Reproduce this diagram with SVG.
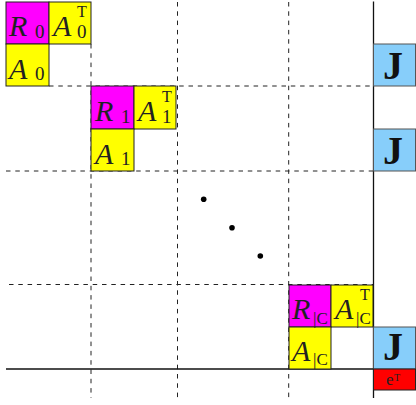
<svg xmlns="http://www.w3.org/2000/svg" width="416" height="405" viewBox="0 0 416 405">
<style>
.m{fill:#ff00ff;stroke:#222;stroke-width:1}
.y{fill:#ffff00;stroke:#222;stroke-width:1}
.j{fill:#87cefa;stroke:#555;stroke-width:1}
.r{fill:#ff0000;stroke:#222;stroke-width:1}
.d{stroke:#222;stroke-width:1;stroke-dasharray:4.5 4.8;fill:none}
.s{stroke:#111;stroke-width:1.3;fill:none}
.v{font-family:"Liberation Serif","DejaVu Serif",serif;font-style:italic;font-size:30px;fill:#222}
.n{font-family:"Liberation Serif","DejaVu Serif",serif;font-size:19px;fill:#222}
.t{font-family:"Liberation Serif","DejaVu Serif",serif;font-size:16px;fill:#222}
.c{font-family:"Liberation Serif","DejaVu Serif",serif;font-size:17px;fill:#222}
.J{font-family:"Liberation Serif","DejaVu Serif",serif;font-weight:bold;font-size:40px;fill:#111;text-anchor:middle}
</style>
<g id="grid">
<line class="d" x1="91" y1="44" x2="91" y2="398"/>
<line class="d" x1="177.5" y1="2" x2="177.5" y2="398"/>
<line class="d" x1="288.7" y1="2" x2="288.7" y2="398"/>
<line class="d" x1="49" y1="86" x2="373" y2="86"/>
<line class="d" x1="6" y1="171" x2="373" y2="171"/>
<line class="d" x1="9" y1="284.5" x2="373" y2="284.5"/>
<line class="s" x1="373.5" y1="1.5" x2="373.5" y2="398"/>
<line class="s" x1="6" y1="369" x2="416" y2="369"/>
</g>
<g id="block0">
<rect class="m" x="6" y="2" width="43" height="42"/>
<rect class="y" x="49" y="2" width="42" height="42"/>
<rect class="y" x="6" y="44" width="43" height="42"/>
<text class="v" x="9" y="36">R</text><text class="n" x="35" y="38">0</text>
<text class="v" x="53" y="36">A</text><text class="n" x="77" y="38">0</text><text class="t" x="77" y="17">T</text>
<text class="v" x="9" y="79">A</text><text class="n" x="35" y="80">0</text>
</g>
<g id="block1">
<rect class="m" x="91" y="86" width="43" height="43"/>
<rect class="y" x="134" y="86" width="42" height="43"/>
<rect class="y" x="91" y="129" width="43" height="42"/>
<text class="v" x="95" y="121">R</text><text class="n" x="121" y="123">1</text>
<text class="v" x="138" y="121">A</text><text class="n" x="162" y="123">1</text><text class="t" x="162" y="102">T</text>
<text class="v" x="95" y="164">A</text><text class="n" x="121" y="165">1</text>
</g>
<g id="blockC">
<rect class="m" x="289" y="285" width="42" height="42"/>
<rect class="y" x="331" y="285" width="42" height="42"/>
<rect class="y" x="289" y="327" width="42" height="42"/>
<text class="v" x="292" y="319">R</text><text class="c" x="313" y="324">|C</text>
<text class="v" x="335" y="319">A</text><text class="c" x="356" y="324">|C</text><text class="t" x="360" y="300">T</text>
<text class="v" x="292" y="361">A</text><text class="c" x="313" y="365">|C</text>
</g>
<g id="J0"><rect class="j" x="373.5" y="44" width="42" height="42"/><text class="J" x="393" y="79">J</text></g>
<g id="J1"><rect class="j" x="373.5" y="129" width="42" height="42"/><text class="J" x="393" y="164">J</text></g>
<g id="JC"><rect class="j" x="373.5" y="327" width="42" height="42"/><text class="J" x="393" y="360">J</text></g>
<g id="eT"><rect class="r" x="373.5" y="369" width="42" height="21"/><text style="font-family:'Liberation Serif',serif;font-size:17px;fill:#222" x="386" y="385">e</text><text style="font-family:'Liberation Serif',serif;font-size:10px;fill:#222" x="394" y="381">T</text></g>
<g id="dots">
<circle cx="203.7" cy="199.3" r="2.8" fill="#000"/>
<circle cx="232" cy="227.7" r="2.8" fill="#000"/>
<circle cx="260.3" cy="256" r="2.8" fill="#000"/>
</g>
</svg>
